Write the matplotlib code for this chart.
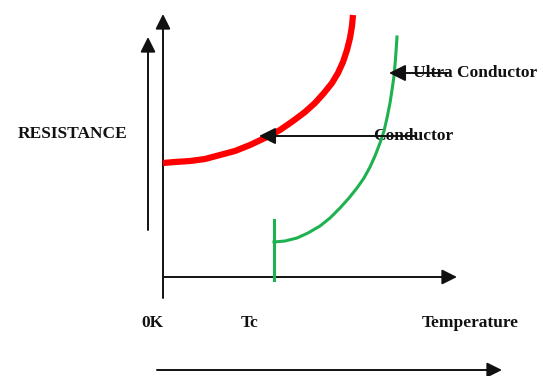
import matplotlib
matplotlib.use("Agg")
import matplotlib.pyplot as plt

# ---- data (pixel-like schematic coordinates) ----
conductor_x = [163, 175, 190, 205, 220, 235, 250, 267, 280, 293, 305, 315, 324, 332,
               338, 343, 347, 350, 352, 353]
conductor_y = [163, 162, 161, 159, 155, 151, 145, 137, 130, 121, 112, 103, 93, 83,
               73, 62, 50, 38, 26, 15]

ultra_x = [274, 285, 297, 308, 320, 330, 340, 349, 357, 364, 370, 375, 380, 384,
           387, 390, 392, 394, 395, 396, 397]
ultra_y = [242, 241, 238, 233, 226, 218, 208, 198, 188, 178, 167, 156, 143, 131,
           118, 103, 90, 76, 65, 52, 37]
ultra_jump_x = [274, 274]
ultra_jump_y = [220, 280]

labels = ["RESISTANCE", "0K", "Tc", "Temperature", "Conductor", "Ultra Conductor"]

W, H = 544, 376
fig = plt.figure(figsize=(W / 100, H / 100), dpi=100)
ax = fig.add_axes([0, 0, 1, 1])
ax.set_xlim(0, W)
ax.set_ylim(H, 0)
ax.axis("off")

black = "#111111"
red = "#ff0000"
green = "#1db24f"
font = dict(family="Liberation Serif", fontweight="bold", fontsize=12.5, color=black)

def arrow(x0, y0, x1, y1, lw=1.4, hl=9, hw=4.5):
    ax.annotate("", xy=(x1, y1), xytext=(x0, y0),
                arrowprops=dict(arrowstyle=f"-|>,head_length={hl/10:.2f},head_width={hw/10:.2f}",
                                color=black, lw=lw, shrinkA=0, shrinkB=0))

# axes
arrow(163, 298, 163, 14)
arrow(163, 277, 457, 277)
arrow(148, 230, 148, 37)
arrow(157, 370, 502, 370)

# curves
ax.plot(conductor_x, conductor_y, color=red, lw=4.5, solid_capstyle="butt",
        solid_joinstyle="round", zorder=3)
ax.plot(ultra_x, ultra_y, color=green, lw=2.2, solid_joinstyle="round", zorder=3)
ax.plot(ultra_jump_x, ultra_jump_y, color=green, lw=2.2, zorder=3)

# label arrows
arrow(415, 136, 259, 136, lw=1.4, hl=10, hw=5)
arrow(448, 73, 389, 73, lw=1.4, hl=10, hw=5)

# texts
ax.text(18, 134, labels[0], ha="left", va="center", **font)
ax.text(152, 323, labels[1], ha="center", va="center", **font)
ax.text(250, 323, labels[2], ha="center", va="center", **font)
ax.text(470, 323, labels[3], ha="center", va="center", **font)
ax.text(373, 136, labels[4], ha="left", va="center", zorder=2, **font)
ax.text(413, 73, labels[5], ha="left", va="center", zorder=2, **font)

fig.savefig("out.png", dpi=100)
